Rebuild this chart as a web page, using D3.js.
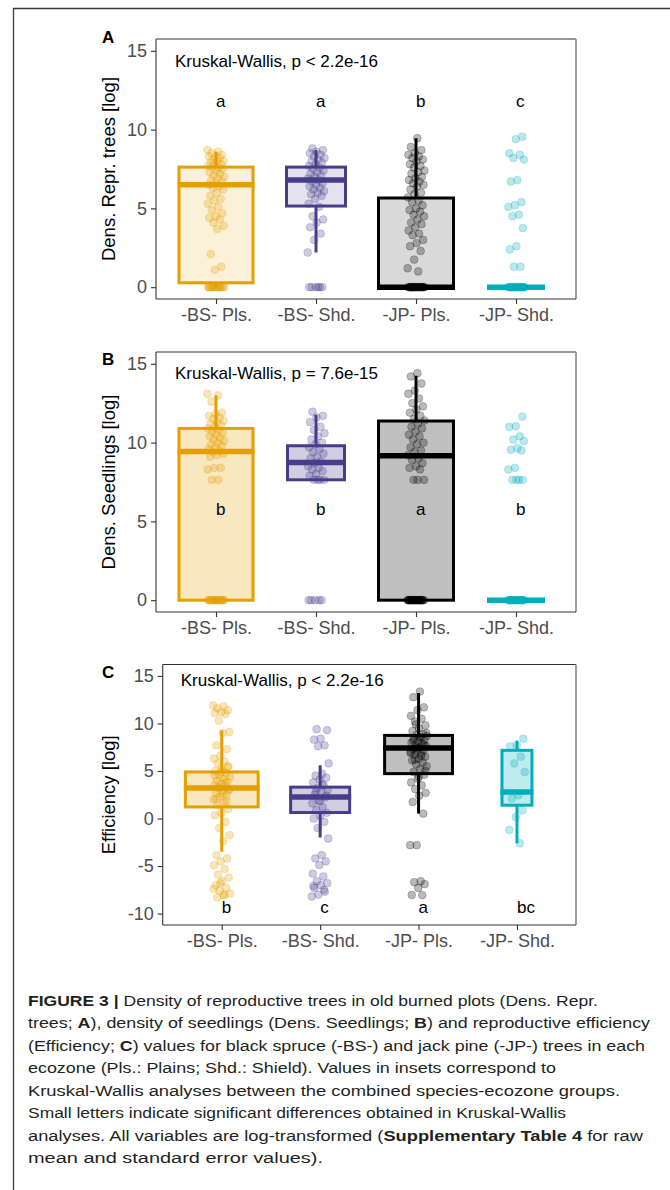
<!DOCTYPE html>
<html>
<head>
  <meta charset="utf-8">
  <title>Figure 3</title>
  <script src="https://cdnjs.cloudflare.com/ajax/libs/d3/7.8.5/d3.min.js"></script>
  <style>
    body { margin: 0; background: #fff; }
    svg { display: block; font-family: "Liberation Sans", Arial, Helvetica, sans-serif; }
  </style>
</head>
<body>
<div id="viz"></div>
<script>
// groups and colours
var groups = ["-BS- Pls.", "-BS- Shd.", "-JP- Pls.", "-JP- Shd."];
var colors = ["#E69F00", "#483D8B", "#000000", "#00AFBB"];

// box stats per group: [lower whisker, q1, median, q3, upper whisker]
var statsA = [[0, 0.28, 6.5, 7.62, 8.6], [2.2, 5.15, 6.8, 7.62, 8.7], [0, 0, 0, 5.66, 9.45], [0, 0, 0, 0, 0]];
var statsB = [[0, 0, 9.43, 10.9, 13.0], [7.64, 7.64, 8.73, 9.8, 11.75], [0, 0, 9.16, 11.37, 14.24], [0, 0, 0, 0, 0]];
var statsC = [[-3.5, 1.22, 3.2, 4.9, 9.27], [-2.0, 0.63, 2.27, 3.3, 5.6], [0.52, 4.72, 7.41, 8.74, 13.2], [-2.6, 1.4, 2.8, 7.17, 8.2]];

// relative box widths (varwidth, share of category step)
var widthsA = [0.77, 0.62, 0.78, 0.58];
var widthsB = [0.77, 0.60, 0.78, 0.58];
var widthsC = [0.77, 0.63, 0.72, 0.335];

var zeros = function (n) { return new Array(n).fill(0); };

var pointsA = [
  [8.7, 8.6, 8.5, 8.4, 8.3, 8.3, 8.2, 8.1, 8.0, 8.0, 7.9, 7.8, 7.8, 7.7, 7.6, 7.6, 7.5, 7.4, 7.3, 7.2, 7.1, 7.0,
   6.9, 6.8, 6.7, 6.6, 6.5, 6.4, 6.3, 6.2, 6.0, 5.8, 5.6, 5.5, 5.3, 5.1, 4.9, 4.7, 4.5, 4.4, 4.3, 4.1, 3.9, 3.7,
   2.1, 1.3, 1.1].concat(zeros(14)),
  [8.8, 8.7, 8.6, 8.5, 8.4, 8.3, 8.2, 8.1, 8.0, 7.9, 7.8, 7.7, 7.6, 7.5, 7.4, 7.3, 7.2, 7.1, 7.0, 6.9, 6.8, 6.7,
   6.6, 6.5, 6.4, 6.3, 6.2, 6.1, 6.0, 5.9, 5.8, 5.6, 5.3, 5.1, 4.5, 4.3, 4.1, 3.8, 3.4, 3.0, 2.2].concat(zeros(6)),
  [9.45, 8.9, 8.7, 8.5, 8.4, 8.3, 8.2, 8.1, 8.0, 7.8, 7.7, 7.6, 7.4, 7.3, 7.2, 7.0, 6.9, 6.8, 6.7, 6.6, 6.5, 6.4,
   6.2, 6.0, 5.9, 5.7, 5.5, 5.4, 5.2, 5.0, 4.9, 4.8, 4.6, 4.5, 4.3, 4.1, 4.0, 3.8, 3.6, 3.4, 3.3, 3.0, 2.8, 2.6,
   2.3, 1.75, 1.2, 1.0].concat(zeros(22)),
  [9.55, 9.4, 8.5, 8.4, 8.2, 8.1, 6.8, 6.7, 5.4, 5.2, 5.1, 4.6, 4.5, 3.75, 2.6, 2.4, 1.3, 1.3].concat(zeros(22))
];

var pointsB = [
  [13.1, 13.0, 12.6, 11.9, 11.8, 11.7, 11.6, 11.5, 11.4, 11.3, 11.2, 11.1, 11.0, 10.9, 10.8, 10.7, 10.6, 10.5,
   10.4, 10.3, 10.2, 10.1, 10.0, 9.9, 9.8, 9.7, 9.6, 9.5, 9.4, 9.3, 9.2, 9.1, 8.4, 8.4, 8.3, 7.64, 7.64].concat(zeros(16)),
  [11.96, 11.7, 11.6, 11.3, 11.0, 10.8, 10.6, 10.4, 10.2, 10.0, 9.9, 9.7, 9.6, 9.4, 9.3, 9.1, 9.0, 8.8, 8.7, 8.5,
   8.4, 8.3, 8.2, 8.0, 7.9, 7.64, 7.64, 7.64, 7.64].concat(zeros(5)),
  [14.4, 14.2, 13.75, 13.3, 13.1, 12.8, 12.5, 12.3, 12.1, 11.9, 11.7, 11.5, 11.4, 11.2, 11.0, 10.9, 10.7, 10.5,
   10.4, 10.2, 10.0, 9.9, 9.7, 9.5, 9.4, 9.2, 9.0, 8.9, 8.7, 8.5, 8.4, 8.3, 7.64, 7.64, 7.64].concat(zeros(26)),
  [11.65, 11.05, 11.0, 10.4, 10.2, 10.1, 9.65, 9.55, 9.5, 8.4, 8.3, 7.64, 7.64, 7.64, 7.64].concat(zeros(22))
];

var pointsC = [
  [11.9, 11.8, 11.6, 11.4, 11.2, 11.1, 11.0, 10.3, 9.1, 9.0, 7.7, 7.3, 6.6, 6.3, 6.0, 5.8, 5.5, 5.2, 5.0, 4.8,
   4.6, 4.4, 4.2, 4.0, 3.9, 3.7, 3.5, 3.4, 3.2, 3.0, 2.9, 2.7, 2.5, 2.3, 2.0, 1.7, 1.4, 1.0, 0.6, 0.35, -0.35,
   -1.0, -1.75, -2.4, -3.85, -4.2, -4.5, -4.9, -5.3, -5.9, -6.2, -6.6, -7.0, -7.3, -7.6, -7.9, -8.0, -8.3,
   5.4, 4.9, 4.5, 3.8, 3.3, 3.1, 2.6, 2.1, 1.8, -6.8, -7.4, -8.1],
  [9.4, 9.3, 8.4, 8.3, 7.7, 7.6, 5.8, 4.7, 4.5, 4.3, 4.1, 3.8, 3.5, 3.2, 3.0, 2.8, 2.5, 2.2, 1.9, 1.6, 1.2, 0.9,
   0.6, 0.3, 0, -0.35, -1.0, -2.1, -3.85, -4.2, -4.5, -4.9, -5.8, -6.1, -6.6, -6.8, -7.0, -7.3, -7.7, -8.0, -8.2,
   3.6, 2.9, 2.4, 1.8, -7.1, -7.5],
  [13.35, 12.76, 11.7, 11.4, 10.8, 10.5, 10.2, 9.8, 9.5, 9.2, 8.9, 8.8, 8.7, 8.5, 8.4, 8.3, 8.1, 8.0, 7.9, 7.7,
   7.6, 7.5, 7.3, 7.2, 7.1, 6.9, 6.8, 6.7, 6.5, 6.3, 6.1, 5.9, 5.7, 5.5, 5.2, 4.9, 4.6, 4.2, 3.8, 3.5, 3.1, 2.7,
   2.4, 1.75, 0.52, -2.8, -2.8, -6.6, -6.7, -6.9, -7.3, -8.04, -8.05,
   9.9, 9.0, 8.6, 8.2, 7.8, 7.4, 7.0, 6.6, 6.2, 5.0, 4.4],
  [8.4, 7.7, 7.6, 6.5, 5.8, 4.9, 2.45, 2.1, 0.87, 0.17, -1.2, -2.6]
];

// significance letters
var lettersA = ["a", "a", "b", "c"];
var lettersB = ["b", "b", "a", "b"];
var lettersC = ["b", "c", "a", "bc"];

var ticksAB = [0, 5, 10, 15];
var ticksC = [-10, -5, 0, 5, 10, 15];

var panels = [
  { tag: "A", title: "Dens. Repr. trees [log]", kw: "Kruskal-Wallis, p < 2.2e-16",
    stats: statsA, widths: widthsA, points: pointsA, letters: lettersA, letterY: 11.45,
    ticks: ticksAB, domain: [-0.75, 15.75], top: 39, bottom: 299, left: 156, kwX: 175, kwY: 66.5, tagY: 43, boxAlpha: 0.15 },
  { tag: "B", title: "Dens. Seedlings [log]", kw: "Kruskal-Wallis, p = 7.6e-15",
    stats: statsB, widths: widthsB, points: pointsB, letters: lettersB, letterY: 5.4,
    ticks: ticksAB, domain: [-0.75, 15.75], top: 352, bottom: 612, left: 156, kwX: 175, kwY: 379, tagY: 365, boxAlpha: 0.25 },
  { tag: "C", title: "Efficiency [log]", kw: "Kruskal-Wallis, p < 2.2e-16",
    stats: statsC, widths: widthsC, points: pointsC, letters: lettersC, letterY: -9.9,
    ticks: ticksC, domain: [-11.2, 16.2], top: 664.5, bottom: 925, left: 162.7, kwX: 180.7, kwY: 685.5, tagY: 678, boxAlpha: 0.25 }
];

var width = 670, height = 1190, right = 576;

var svg = d3.select("#viz").append("svg")
    .attr("width", width)
    .attr("height", height);

// figure frame
svg.append("path")
    .attr("d", "M13.5," + height + "V8.5H" + width)
    .attr("fill", "none")
    .attr("stroke", "#3c3c3c")
    .attr("stroke-width", 1.3);

panels.forEach(function (p) {
  var x = d3.scalePoint().domain(groups).range([p.left, right]).padding(0.6);
  var y = d3.scaleLinear().domain(p.domain).range([p.bottom, p.top]);
  var step = x.step();
  var g = svg.append("g");

  // panel border
  g.append("line").attr("x1", p.left).attr("x2", right).attr("y1", p.top).attr("y2", p.top)
      .attr("stroke", "#333").attr("stroke-width", 1.1);
  g.append("line").attr("x1", right).attr("x2", right).attr("y1", p.top).attr("y2", p.bottom)
      .attr("stroke", "#888").attr("stroke-width", 1.6);

  // boxes
  p.stats.forEach(function (s, i) {
    var cx = x(groups[i]);
    var w = p.widths[i] * step - 3;
    var col = colors[i];
    var bx = g.append("g");
    bx.append("line").attr("x1", cx).attr("x2", cx).attr("y1", y(s[3])).attr("y2", y(s[4]))
        .attr("stroke", col).attr("stroke-width", 3);
    bx.append("line").attr("x1", cx).attr("x2", cx).attr("y1", y(s[1])).attr("y2", y(s[0]))
        .attr("stroke", col).attr("stroke-width", 3);
    bx.append("rect")
        .attr("x", cx - w / 2).attr("width", w)
        .attr("y", y(s[3])).attr("height", Math.max(0, y(s[1]) - y(s[3])))
        .attr("fill", col).attr("fill-opacity", p.boxAlpha)
        .attr("stroke", col).attr("stroke-width", 3);
    bx.append("line").attr("x1", cx - w / 2 - 1.5).attr("x2", cx + w / 2 + 1.5)
        .attr("y1", y(s[2])).attr("y2", y(s[2]))
        .attr("stroke", col).attr("stroke-width", 5.5);
  });

  // jittered points
  p.points.forEach(function (vals, i) {
    var cx = x(groups[i]);
    g.append("g").selectAll("circle")
        .data(vals)
        .enter()
        .append("circle")
        .attr("cx", function (d, j) { return cx + (((j * 0.618034 + i * 0.29) % 1) - 0.5) * 17; })
        .attr("cy", function (d) { return y(d); })
        .attr("r", 3.9)
        .attr("fill", colors[i])
        .attr("fill-opacity", 0.27)
        .attr("stroke", colors[i])
        .attr("stroke-opacity", 0.3)
        .attr("stroke-width", 0.7);
  });

  // axes
  var ya = g.append("g")
      .attr("transform", "translate(" + p.left + ",0)")
      .call(d3.axisLeft(y).tickValues(p.ticks).tickSize(5).tickPadding(4)
          .tickFormat(function (d) { return String(d); }));
  var xa = g.append("g")
      .attr("transform", "translate(0," + p.bottom + ")")
      .call(d3.axisBottom(x).tickSize(5).tickPadding(4));
  [ya, xa].forEach(function (a) {
    a.select(".domain").attr("stroke", "#333").attr("stroke-width", 1.1);
    a.selectAll(".tick line").attr("stroke", "#333").attr("stroke-width", 1.1);
    a.selectAll(".tick text")
        .style("font-family", "'Liberation Sans', Arial, sans-serif")
        .style("font-size", "18px")
        .attr("fill", "#4d4d4d");
  });
  ya.select(".domain").attr("d", "M0," + p.top + "V" + p.bottom);
  xa.select(".domain").attr("d", "M" + p.left + ",0H" + right);

  // axis title
  g.append("text")
      .attr("transform", "translate(115," + (p.top + p.bottom) / 2 + ") rotate(-90)")
      .attr("text-anchor", "middle")
      .style("font-size", "18.5px")
      .attr("fill", "#000")
      .text(p.title);

  // panel tag
  g.append("text")
      .attr("x", 102).attr("y", p.tagY)
      .style("font-size", "17px").style("font-weight", "bold")
      .text(p.tag);

  // test label
  g.append("text")
      .attr("x", p.kwX).attr("y", p.kwY)
      .style("font-size", "17px")
      .text(p.kw);

  // letters
  g.selectAll(".letter")
      .data(p.letters)
      .enter()
      .append("text")
      .attr("x", function (d, i) { return x(groups[i]); })
      .attr("y", y(p.letterY))
      .style("font-size", "17px")
      .text(function (d) { return d; });
});

// caption
var caption = [
  [["FIGURE 3 |", true], [" Density of reproductive trees in old burned plots (Dens. Repr.", false]],
  [["trees; ", false], ["A", true], ["), density of seedlings (Dens. Seedlings; ", false], ["B", true], [") and reproductive efficiency", false]],
  [["(Efficiency; ", false], ["C", true], [") values for black spruce (-BS-) and jack pine (-JP-) trees in each", false]],
  [["ecozone (Pls.: Plains; Shd.: Shield). Values in insets correspond to", false]],
  [["Kruskal-Wallis analyses between the combined species-ecozone groups.", false]],
  [["Small letters indicate significant differences obtained in Kruskal-Wallis", false]],
  [["analyses. All variables are log-transformed (", false], ["Supplementary Table 4", true], [" for raw", false]],
  [["mean and standard error values).", false]]
];
var captionEnds = [598, 650, 645, 556, 620, 566, 643, 323];

caption.forEach(function (line, i) {
  var t = svg.append("text")
      .attr("x", 28)
      .attr("y", 1005.5 + i * 22.5)
      .attr("textLength", captionEnds[i] - 28)
      .attr("lengthAdjust", "spacingAndGlyphs")
      .style("font-size", "15.5px")
      .attr("fill", "#231f20");
  line.forEach(function (seg) {
    t.append("tspan")
        .style("font-weight", seg[1] ? "bold" : "normal")
        .text(seg[0]);
  });
});
</script>
</body>
</html>
